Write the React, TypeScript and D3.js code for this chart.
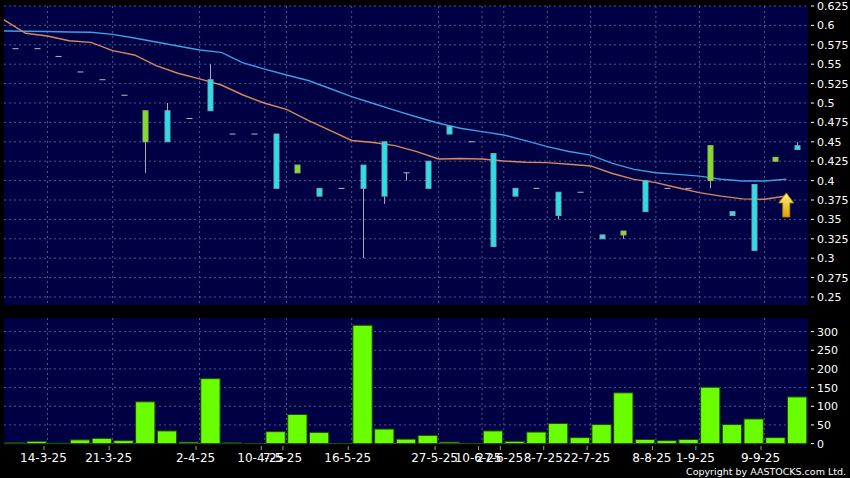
import React from 'react';
import * as d3 from 'd3';

// daily OHLC (37 sessions)
const opens = [0.57, 0.57, 0.56, 0.54, 0.53, 0.51, 0.45, 0.49, 0.48, 0.53, 0.46, 0.46, 0.46, 0.41, 0.39, 0.39, 0.42, 0.45, 0.41, 0.425, 0.47, 0.45, 0.435, 0.39, 0.39, 0.385, 0.385, 0.33, 0.33, 0.40, 0.39, 0.39, 0.40, 0.36, 0.395, 0.425, 0.445];
const highs = [0.57, 0.57, 0.56, 0.54, 0.53, 0.51, 0.49, 0.50, 0.48, 0.55, 0.46, 0.46, 0.46, 0.42, 0.39, 0.39, 0.42, 0.45, 0.41, 0.425, 0.47, 0.45, 0.435, 0.39, 0.39, 0.385, 0.385, 0.33, 0.335, 0.40, 0.39, 0.39, 0.445, 0.36, 0.395, 0.43, 0.45];
const lows = [0.57, 0.57, 0.56, 0.54, 0.53, 0.51, 0.41, 0.45, 0.48, 0.49, 0.46, 0.46, 0.39, 0.41, 0.38, 0.39, 0.30, 0.37, 0.40, 0.39, 0.46, 0.45, 0.315, 0.38, 0.39, 0.35, 0.385, 0.325, 0.325, 0.36, 0.39, 0.39, 0.39, 0.355, 0.31, 0.425, 0.44];
const closes = [0.57, 0.57, 0.56, 0.54, 0.53, 0.51, 0.49, 0.45, 0.48, 0.49, 0.46, 0.46, 0.39, 0.42, 0.38, 0.39, 0.39, 0.38, 0.41, 0.39, 0.46, 0.45, 0.315, 0.38, 0.39, 0.355, 0.385, 0.325, 0.335, 0.36, 0.39, 0.39, 0.445, 0.355, 0.31, 0.43, 0.44];
const volumes = [2, 6, 1, 10, 14, 8, 112, 34, 4, 174, 2, 0.5, 32, 78, 30, 0.5, 317, 39, 12, 22, 4, 0.5, 34, 6, 31, 54, 16, 51, 136, 11, 8, 11, 151, 51, 66, 16, 125];

// moving averages
const maLong = [0.5928, 0.5924, 0.5921, 0.5915, 0.5911, 0.5885, 0.5838, 0.5786, 0.5735, 0.5683, 0.5653, 0.5518, 0.5436, 0.5361, 0.529, 0.5187, 0.5082, 0.4994, 0.4904, 0.482, 0.4739, 0.4674, 0.4631, 0.4588, 0.4515, 0.4437, 0.4375, 0.4328, 0.4221, 0.4145, 0.4102, 0.408, 0.4058, 0.4017, 0.3995, 0.3995, 0.4017];
const maShort = [0.607, 0.5898, 0.5863, 0.5803, 0.5782, 0.5674, 0.5619, 0.5481, 0.5383, 0.531, 0.5232, 0.5103, 0.4997, 0.4917, 0.4777, 0.4646, 0.4517, 0.4491, 0.445, 0.4373, 0.4279, 0.4285, 0.4279, 0.4253, 0.4236, 0.4231, 0.4211, 0.4189, 0.4092, 0.4016, 0.3974, 0.3908, 0.3845, 0.38, 0.3764, 0.376, 0.3802];

// x labels
const labelIdx = [2, 5, 9, 12, 13, 16, 20, 22, 23, 25, 27, 30, 32, 35];
const labelText = ['14-3-25', '21-3-25', '2-4-25', '10-4-25', '7-5-25', '16-5-25', '27-5-25', '10-6-25', '27-6-25', '8-7-25', '22-7-25', '8-8-25', '1-9-25', '9-9-25'];

const priceTicks = d3.range(0.25, 0.6251, 0.025);
const volTicks = [0, 50, 100, 150, 200, 250, 300];

const W = 850;
const H = 478;
const left = 4;
const right = 808;
const font = 'DejaVu Sans, sans-serif';

const App = () => {
    const idx = d3.range(opens.length);
    const x = d3.scaleBand<number>().domain(idx).range([left, right]).padding(0);
    const bw = x.bandwidth();

    const y = d3.scaleLinear().domain([0.25, 0.625]).range([297, 6]);
    const yv = d3.scaleLinear().domain([0, 300]).range([443.6, 331.6]);

    const line = d3
        .line<number>()
        .x((_, i) => x(i)!)
        .y((d) => y(d));

    const grid = '#53538f';
    const arrowX = x(36)!;
    const arrowY = y(maShort[36]) - 3;

    return (
        <svg width={W} height={H} style={{ position: 'absolute', left: 0, top: 0, background: '#000' }}>
            <defs>
                <linearGradient id="arrowGrad" x1="0" y1="0" x2="0" y2="1">
                    <stop offset="0%" stopColor="#fff27a" />
                    <stop offset="100%" stopColor="#e0a000" />
                </linearGradient>
            </defs>
            <rect width={W} height={H} fill="#000" />

            {/* price panel */}
            <rect x={left} y={6} width={right - left} height={299} fill="#000044" />
            {priceTicks.map((t) => (
                <line key={'hp' + t} x1={left} x2={right} y1={y(t)} y2={y(t)} stroke={grid} strokeDasharray="2,3" />
            ))}
            {labelIdx.map((i) => (
                <line key={'vp' + i} x1={x(i)} x2={x(i)} y1={6} y2={305} stroke={grid} strokeDasharray="2,3" />
            ))}
            {priceTicks.map((t) => (
                <g key={'pt' + t}>
                    <line x1={right + 3} x2={right + 6} y1={y(t)} y2={y(t)} stroke="#fff" />
                    <text x={right + 9} y={y(t) + 4} fill="#fff" fontSize={11} fontFamily={font}>
                        {d3.format('')(+t.toFixed(3))}
                    </text>
                </g>
            ))}

            {/* moving averages */}
            <path d={line(maLong)!} fill="none" stroke="#3b9fe0" strokeWidth={1.4} />
            <path d={line(maShort)!} fill="none" stroke="#d9875e" strokeWidth={1.4} />

            {/* candles */}
            {idx.map((i) => {
                const cx = Math.round(x(i)! + bw / 2) + 0.5;
                const o = opens[i];
                const c = closes[i];
                const wick = (
                    <line x1={cx} x2={cx} y1={y(highs[i])} y2={y(lows[i])} stroke="#a8a8b8" />
                );
                if (o === c) {
                    return (
                        <g key={'c' + i}>
                            {highs[i] !== lows[i] && wick}
                            <line x1={cx - 3} x2={cx + 3} y1={y(c)} y2={y(c)} stroke="#b8b8c8" strokeWidth={1} />
                        </g>
                    );
                }
                const up = c > o;
                const top = y(Math.max(o, c));
                const bot = y(Math.min(o, c));
                return (
                    <g key={'c' + i}>
                        {wick}
                        <rect
                            x={cx - 2.5}
                            y={top}
                            width={5}
                            height={Math.max(bot - top, 2)}
                            fill={up ? '#7de022' : '#24e3e8'}
                            stroke={up ? '#9cb86a' : '#7aa4b0'}
                            strokeWidth={1}
                        />
                    </g>
                );
            })}

            {/* arrow */}
            <path
                d={`M${arrowX},${arrowY} L${arrowX + 7.5},${arrowY + 10} L${arrowX + 3.5},${arrowY + 10} L${arrowX + 3.5},${arrowY + 24} L${arrowX - 3.5},${arrowY + 24} L${arrowX - 3.5},${arrowY + 10} L${arrowX - 7.5},${arrowY + 10} Z`}
                fill="url(#arrowGrad)"
                stroke="#c08a00"
                strokeWidth={0.8}
            />

            {/* volume panel */}
            <rect x={left} y={318} width={right - left} height={126} fill="#000044" />
            {volTicks.map((t) => (
                <line key={'hv' + t} x1={left} x2={right} y1={yv(t)} y2={yv(t)} stroke={grid} strokeDasharray="2,3" />
            ))}
            {labelIdx.map((i) => (
                <line key={'vv' + i} x1={x(i)} x2={x(i)} y1={318} y2={444} stroke={grid} strokeDasharray="2,3" />
            ))}
            {idx.map((i) => (
                <rect
                    key={'v' + i}
                    x={x(i)! + 1.2}
                    y={yv(volumes[i])}
                    width={bw - 2.4}
                    height={yv(0) - yv(volumes[i])}
                    fill="#6aff00"
                    stroke="#1e4a00"
                    strokeWidth={1}
                />
            ))}
            {volTicks.map((t) => (
                <g key={'vt' + t}>
                    <line x1={right + 3} x2={right + 6} y1={yv(t)} y2={yv(t)} stroke="#fff" />
                    <text x={right + 9} y={yv(t) + 4} fill="#fff" fontSize={11} fontFamily={font}>
                        {t}
                    </text>
                </g>
            ))}

            {/* x axis */}
            {labelIdx.map((i, k) => (
                <g key={'xl' + i}>
                    <line x1={x(i)! - 3.5} x2={x(i)! - 3.5} y1={446} y2={450} stroke="#999" />
                    <text x={x(i)! - 4} y={462} fill="#fff" fontSize={12} fontFamily={font} textAnchor="middle">
                        {labelText[k]}
                    </text>
                </g>
            ))}
            <text x={846} y={475} fill="#fff" fontSize={9.5} fontFamily={font} textAnchor="end">
                Copyright by AASTOCKS.com Ltd.
            </text>
        </svg>
    );
};

export default App;
